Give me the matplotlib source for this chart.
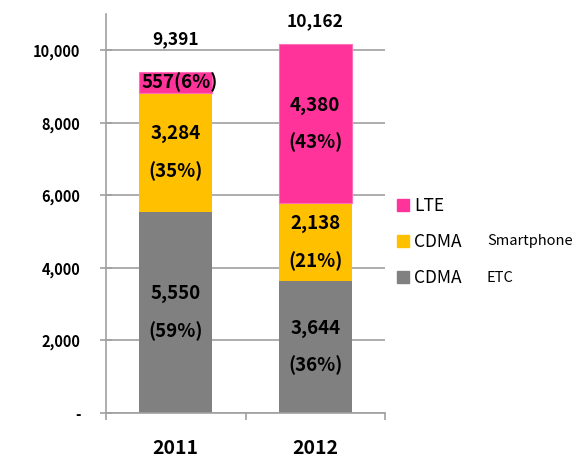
import matplotlib
matplotlib.use("Agg")
import matplotlib.pyplot as plt
from matplotlib.patches import Patch

plt.rcParams["font.family"] = ["Noto Sans CJK KR", "DejaVu Sans"]

YEARS = ["2011", "2012"]
ETC = [5550, 3644]
SMART = [3284, 2138]
LTE = [557, 4380]
TOTALS = [9391, 10162]
ETC_PCT = ["(59%)", "(36%)"]
SMART_PCT = ["(35%)", "(21%)"]
LTE_PCT = ["(6%)", "(43%)"]

C_ETC = "#808080"
C_SMART = "#FFC000"
C_LTE = "#FF3399"
AXIS_GRAY = "#A0A0A0"

fig = plt.figure(figsize=(5.78, 4.58), dpi=100)
ax = fig.add_axes([106 / 578, 1 - 413 / 458, (385 - 106) / 578, (413 - 14) / 458])

x = list(range(len(YEARS)))
w = 0.52
base2 = [a + b for a, b in zip(ETC, SMART)]
ax.bar(x, ETC, w, color=C_ETC, zorder=2)
ax.bar(x, SMART, w, bottom=ETC, color=C_SMART, zorder=2)
ax.bar(x, LTE, w, bottom=base2, color=C_LTE, edgecolor="#FF6FB7", linewidth=0.8, zorder=2)

ax.set_xlim(-0.5, 1.5)
ax.set_ylim(0, 11000)
ax.set_yticks(range(0, 10001, 2000))
ax.set_yticklabels(["-" if v == 0 else f"{v:,}" for v in range(0, 10001, 2000)],
                   fontweight="bold", fontsize=10.5)
ax.set_xticks(x)
ax.set_xticklabels(YEARS, fontweight="bold", fontsize=14)
ax.set_xticks([-0.5, 0.5, 1.5], minor=True)
ax.tick_params(axis="x", which="major", length=0, pad=19)
ax.tick_params(axis="x", which="minor", direction="out", length=5, color=AXIS_GRAY, width=1.2)
ax.tick_params(axis="y", direction="inout", length=8.6, color=AXIS_GRAY, width=1.2, pad=14)

for s in ("top", "right"):
    ax.spines[s].set_visible(False)
for s in ("left", "bottom"):
    ax.spines[s].set_color(AXIS_GRAY)
    ax.spines[s].set_linewidth(1.2)
ax.yaxis.grid(True, color=AXIS_GRAY, linewidth=1.2, zorder=0)
ax.set_axisbelow(True)

lab = dict(ha="center", va="center", fontweight="bold", fontsize=13.5, textcoords="offset points")

def two_line(i, bottom, val, pct):
    yc = bottom + val / 2
    ax.annotate(f"{val:,}", (i, yc), xytext=(0, 13.5), **lab)
    ax.annotate(pct, (i, yc), xytext=(0, -13.5), **lab)

for i in x:
    two_line(i, 0, ETC[i], ETC_PCT[i])
    two_line(i, ETC[i], SMART[i], SMART_PCT[i])

# 2011 LTE segment is thin: single-line label
ax.annotate(f"{LTE[0]:,}{LTE_PCT[0]}", (0, base2[0] + LTE[0] / 2), xytext=(3, 0), **lab)
two_line(1, base2[1], LTE[1], LTE_PCT[1])

total_offsets = [24, 17]
for i in x:
    ax.annotate(f"{TOTALS[i]:,}", (i, TOTALS[i]), xytext=(0, total_offsets[i]),
                ha="center", va="center", fontweight="bold", fontsize=12.5,
                textcoords="offset points")

handles = [Patch(color=C_LTE), Patch(color=C_SMART), Patch(color=C_ETC)]
fig.legend(handles, ["LTE", "CDMA", "CDMA"], loc="upper left",
           bbox_to_anchor=(397 / 578, 1 - 197 / 458), frameon=False,
           fontsize=12.5, handlelength=0.7, handleheight=0.7, handletextpad=0.3,
           labelspacing=1.05, borderpad=0, borderaxespad=0)
fig.text(487 / 578, 1 - 241 / 458, "Smartphone", fontsize=10.5, va="center")
fig.text(487 / 578, 1 - 278 / 458, "ETC", fontsize=10.5, va="center")

fig.savefig("out.png", dpi=100)
